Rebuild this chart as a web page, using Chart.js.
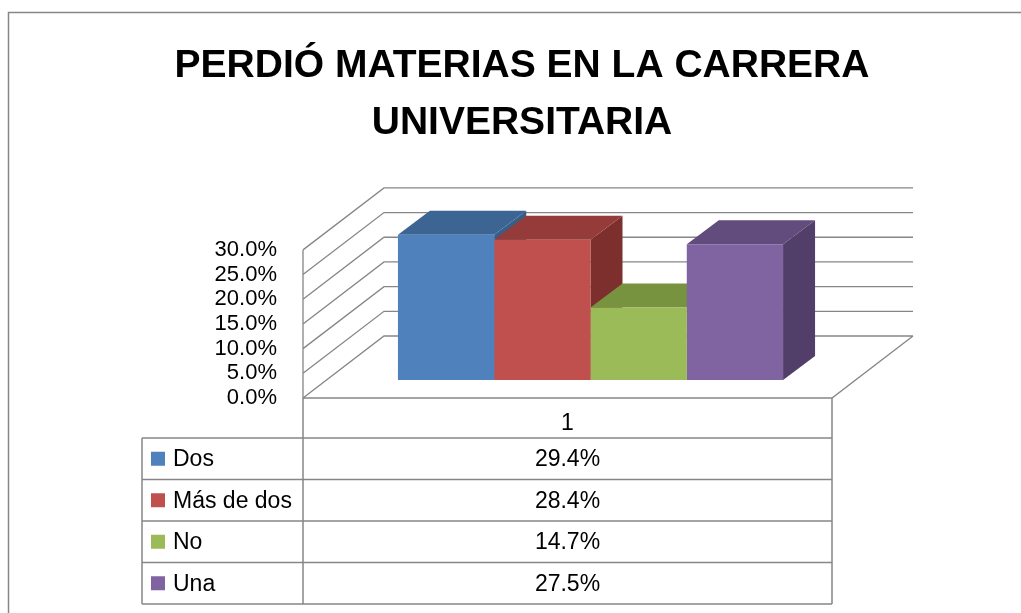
<!DOCTYPE html>
<html>
<head>
<meta charset="utf-8">
<script src="https://cdn.jsdelivr.net/npm/chart.js@4.4.1/dist/chart.umd.min.js"></script>
<style>
  html, body { margin: 0; padding: 0; background: #fff; }
  canvas { display: block; }
</style>
</head>
<body>
<canvas id="grafico" width="1021" height="613"></canvas>
<script>
// Dados do gráfico
const categorias = ['1'];
const series = ['Dos', 'Más de dos', 'No', 'Una'];
const valores = [29.4, 28.4, 14.7, 27.5];
const ticksY = [0, 5, 10, 15, 20, 25, 30];

// Cores (frente, topo e lateral das barras)
const coresFrente = ['#4F81BD', '#C0504D', '#9BBB59', '#8064A2'];
const coresTopo = ['#3D6594', '#953B39', '#78933F', '#624C7E'];
const coresLado = ['#385D89', '#7D2F2D', '#657C35', '#523F69'];

const FONTE = '"Liberation Sans", Arial, sans-serif';
const CINZA = '#868686';
// Deslocamentos da perspectiva
const FRENTE = { dx: -23, dy: 18 };  // parede frontal
const FUNDO = { dx: 58, dy: -44 };   // parede do fundo
const PROF = { dx: 32, dy: -24 };    // profundidade das barras

// Moldura do gráfico
const moldura = {
  id: 'moldura',
  beforeDraw(chart) {
    const ctx = chart.ctx;
    ctx.save();
    ctx.strokeStyle = CINZA;
    ctx.lineWidth = 1.5;
    ctx.strokeRect(8.5, 12.5, 1200, 800);
    ctx.restore();
  }
};

// Paredes, chão e faces 3D das barras
const paredes = {
  id: 'paredes',
  beforeDatasetsDraw(chart) {
    const { ctx, chartArea: a, scales: { y } } = chart;
    ctx.save();
    ctx.strokeStyle = CINZA;
    ctx.lineWidth = 1.3;
    ctx.beginPath();
    y.ticks.forEach(t => {
      const py = y.getPixelForValue(t.value);
      ctx.moveTo(a.left + FRENTE.dx, py + FRENTE.dy);
      ctx.lineTo(a.left + FUNDO.dx, py + FUNDO.dy);
      ctx.lineTo(a.right + FUNDO.dx, py + FUNDO.dy);
    });
    const topo = y.getPixelForValue(y.max);
    const base = y.getPixelForValue(0);
    ctx.moveTo(a.left + FRENTE.dx, topo + FRENTE.dy);
    ctx.lineTo(a.left + FRENTE.dx, base + FRENTE.dy);
    ctx.lineTo(a.right + FRENTE.dx, base + FRENTE.dy);
    ctx.lineTo(a.right + FUNDO.dx, base + FUNDO.dy);
    ctx.stroke();

    chart.data.datasets.forEach((ds, i) => {
      const bar = chart.getDatasetMeta(i).data[0];
      const { x, y: yt, base: b, width } = bar.getProps(['x', 'y', 'base', 'width'], true);
      const l = x - width / 2, r = x + width / 2;
      // lateral
      ctx.fillStyle = coresLado[i];
      ctx.beginPath();
      ctx.moveTo(r, yt);
      ctx.lineTo(r + PROF.dx, yt + PROF.dy);
      ctx.lineTo(r + PROF.dx, b + PROF.dy);
      ctx.lineTo(r, b);
      ctx.closePath();
      ctx.fill();
      // topo
      ctx.fillStyle = coresTopo[i];
      ctx.beginPath();
      ctx.moveTo(l, yt);
      ctx.lineTo(r, yt);
      ctx.lineTo(r + PROF.dx, yt + PROF.dy);
      ctx.lineTo(l + PROF.dx, yt + PROF.dy);
      ctx.closePath();
      ctx.fill();
    });
    ctx.restore();
  }
};

// Tabela de dados com legenda
const tabela = {
  id: 'tabela',
  afterDraw(chart) {
    const { ctx, chartArea: a, scales: { y } } = chart;
    const x0 = 142, x1 = a.left + FRENTE.dx, x2 = a.right + FRENTE.dx;
    const topo = y.getPixelForValue(0) + FRENTE.dy;
    const yCab = topo + 40, altLinha = 41.5;
    const yFim = yCab + altLinha * series.length;
    ctx.save();
    ctx.strokeStyle = CINZA;
    ctx.lineWidth = 1.5;
    ctx.beginPath();
    ctx.moveTo(x1, topo); ctx.lineTo(x1, yFim);
    ctx.moveTo(x2, topo); ctx.lineTo(x2, yFim);
    ctx.moveTo(x0, yCab); ctx.lineTo(x0, yFim);
    for (let k = 0; k <= series.length; k++) {
      const yy = yCab + k * altLinha;
      ctx.moveTo(x0, yy);
      ctx.lineTo(x2, yy);
    }
    ctx.stroke();

    ctx.font = '23px ' + FONTE;
    ctx.textBaseline = 'middle';
    ctx.fillStyle = '#000';
    ctx.textAlign = 'center';
    ctx.fillText(categorias[0], (x1 + x2) / 2, topo + 26);
    chart.data.datasets.forEach((ds, i) => {
      const cy = yCab + altLinha * (i + 0.5);
      ctx.fillStyle = ds.backgroundColor;
      ctx.fillRect(x0 + 9, cy - 7, 14, 14);
      ctx.fillStyle = '#000';
      ctx.textAlign = 'left';
      ctx.fillText(ds.label, x0 + 31, cy + 1);
      ctx.textAlign = 'center';
      ctx.fillText(ds.data[0].toFixed(1) + '%', (x1 + x2) / 2, cy + 1);
    });
    ctx.restore();
  }
};

const grafico = new Chart(document.getElementById('grafico'), {
  type: 'bar',
  data: {
    labels: categorias,
    datasets: series.map((nome, i) => ({
      label: nome,
      data: [valores[i]],
      backgroundColor: coresFrente[i],
      borderWidth: 0,
      barPercentage: 1,
      categoryPercentage: 0.728
    }))
  },
  options: {
    responsive: false,
    animation: false,
    layout: {
      padding: { top: 0, left: 23, right: 0, bottom: 233 }
    },
    plugins: {
      legend: { display: false },
      tooltip: { enabled: false },
      title: {
        display: true,
        text: ['PERDIÓ MATERIAS EN LA CARRERA', 'UNIVERSITARIA'],
        color: '#000',
        font: { family: FONTE, size: 39, weight: 'bold', lineHeight: 1.46 },
        padding: { top: 38, bottom: 80 }
      }
    },
    scales: {
      x: { display: false },
      y: {
        min: 0,
        max: 30,
        afterBuildTicks: scale => { scale.ticks = ticksY.map(v => ({ value: v })); },
        afterFit: scale => { scale.width = 303; },
        grid: { display: false },
        border: { display: false },
        ticks: {
          autoSkip: false,
          color: '#000',
          padding: 41,
          labelOffset: 18,
          font: { family: FONTE, size: 22 },
          callback: v => v.toFixed(1) + '%'
        }
      },
      // eixo vazio à direita, só reserva espaço para a perspectiva
      y2: {
        type: 'linear',
        position: 'right',
        min: 0,
        max: 30,
        afterFit: scale => { scale.width = 166; },
        grid: { display: false },
        border: { display: false },
        ticks: { display: false }
      }
    }
  },
  plugins: [moldura, paredes, tabela]
});
</script>
</body>
</html>
